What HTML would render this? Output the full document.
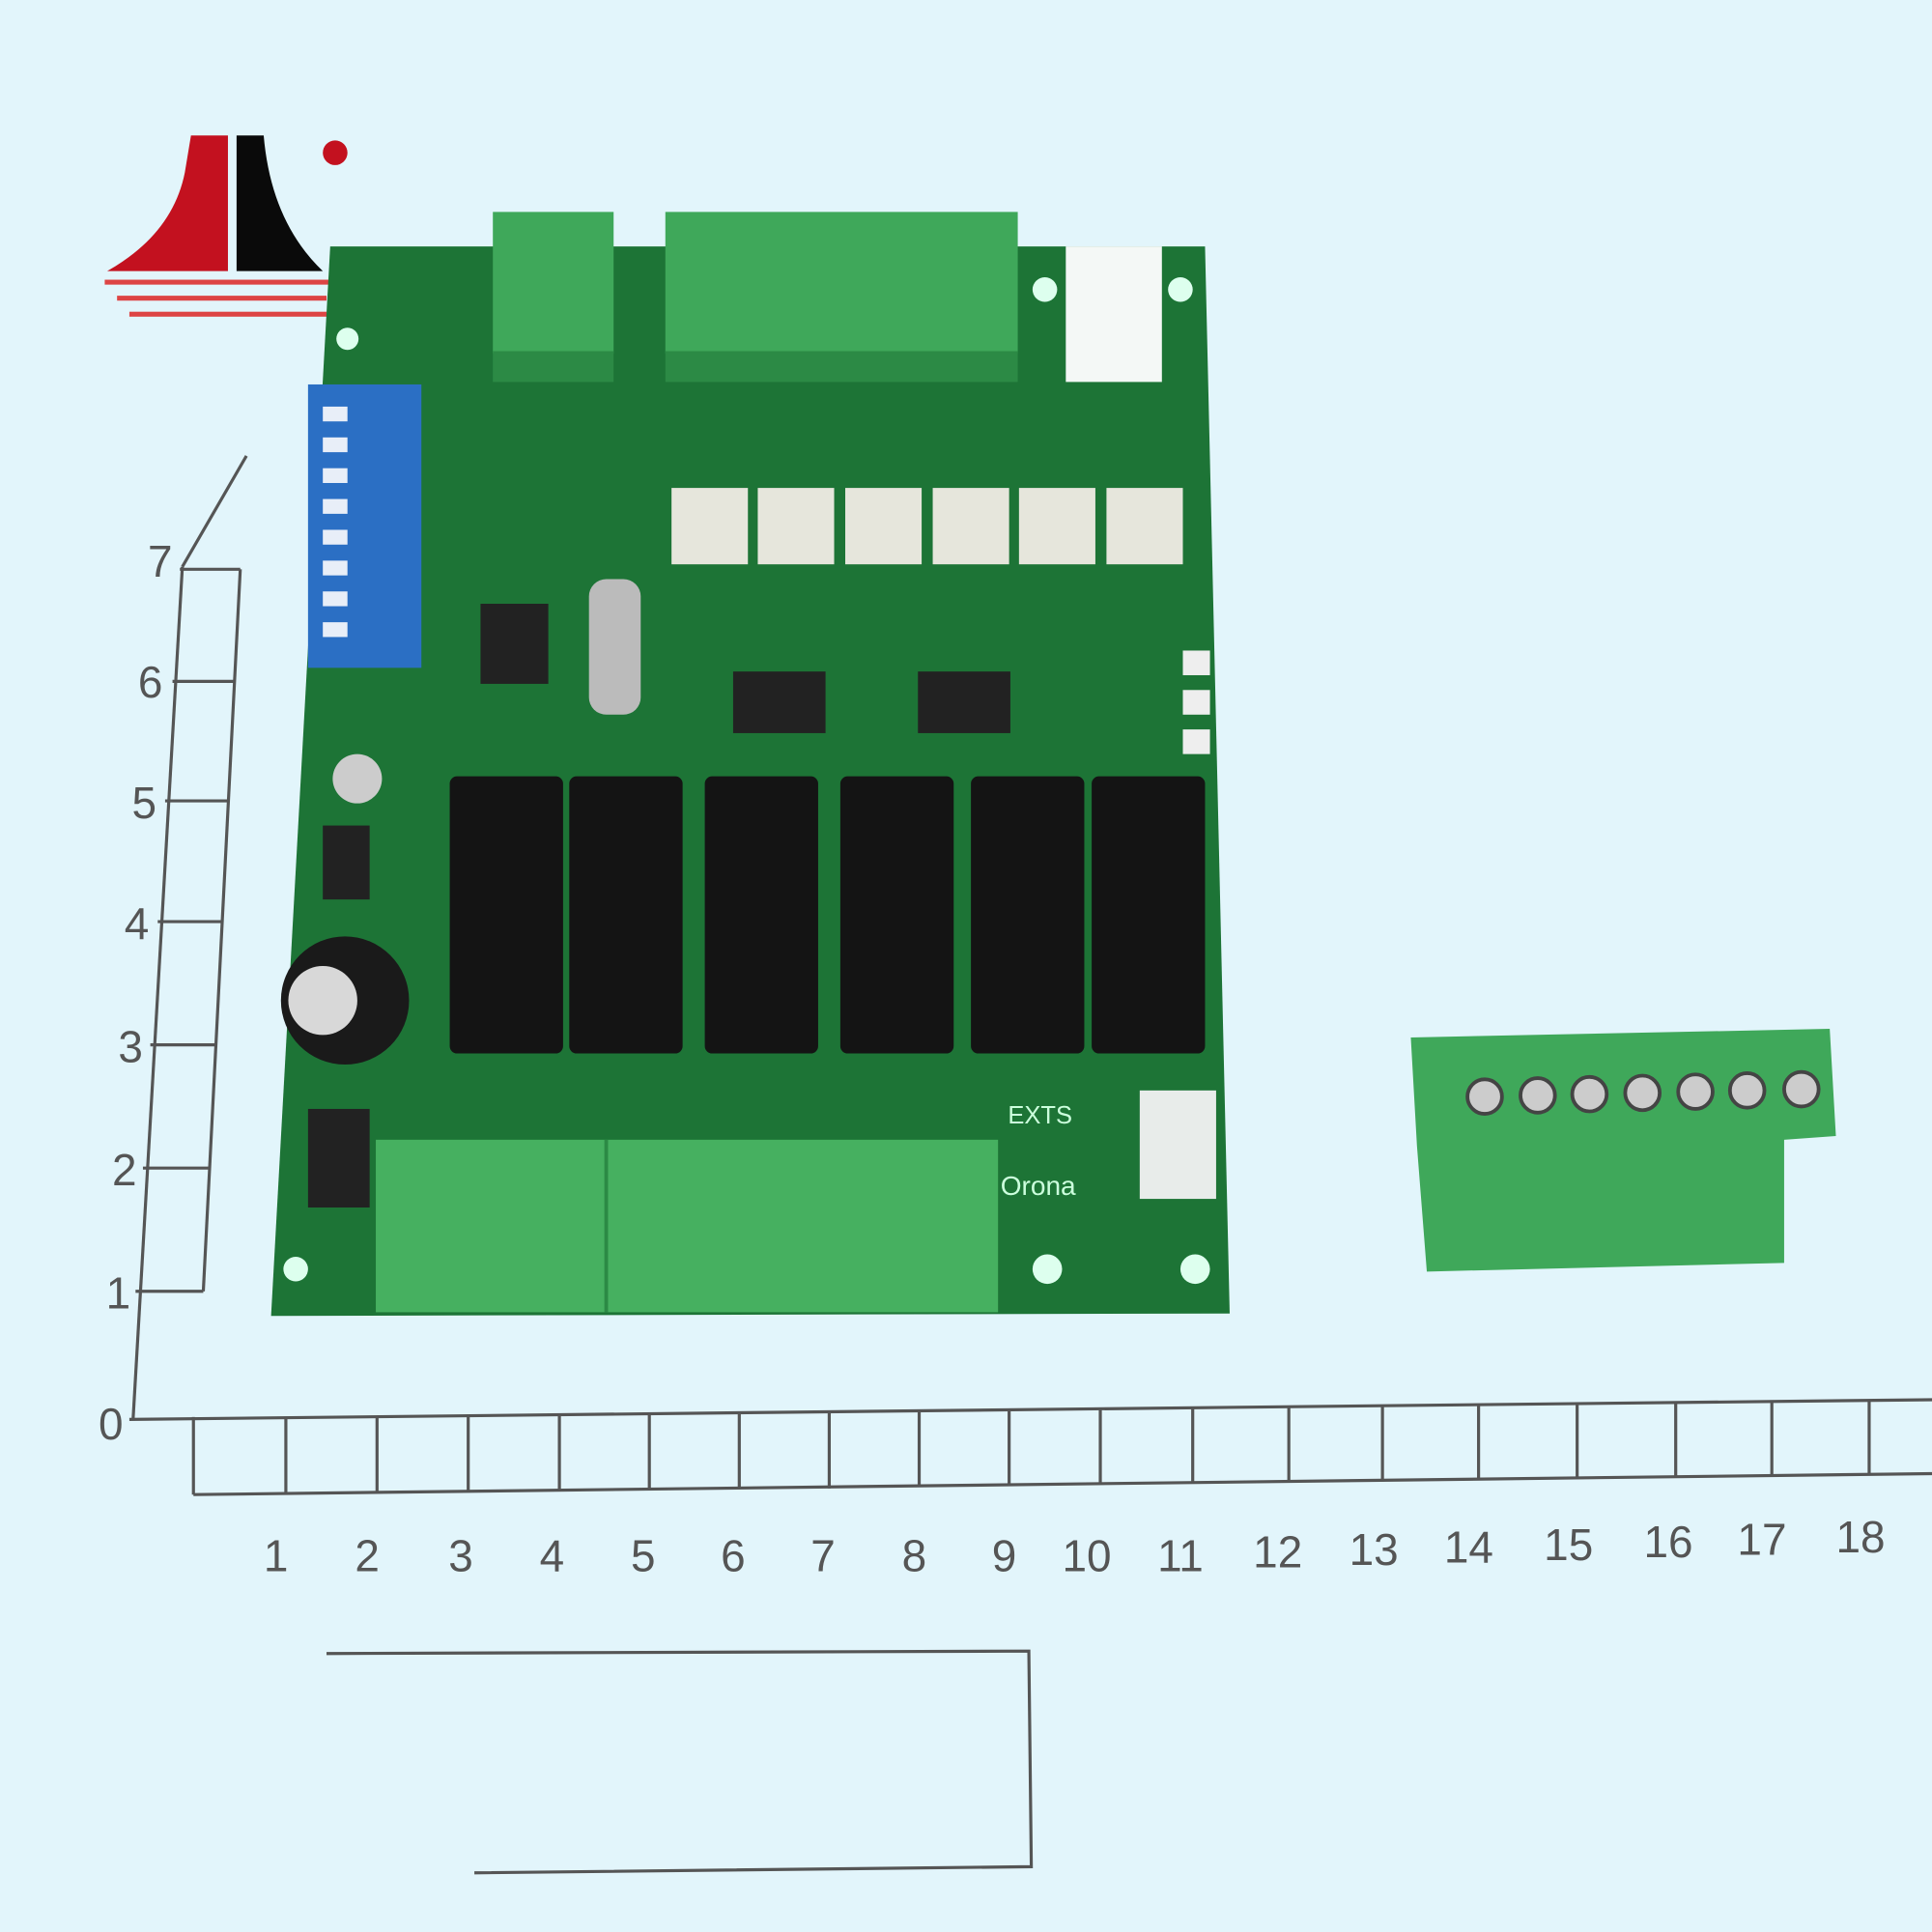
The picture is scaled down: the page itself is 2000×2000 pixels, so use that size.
<!DOCTYPE html>
<html><head><style>html,body{margin:0;padding:0;background:#e2f5fb;}svg{display:block}</style></head>
<body>
<svg width="2000" height="2000" viewBox="0 0 1568 1568" xmlns="http://www.w3.org/2000/svg" font-family="Liberation Sans, sans-serif">
<rect width="1568" height="1568" fill="#e2f5fb"/>
<!-- logo -->
<path d="M155 110 L185 110 L185 220 L87 220 Q140 190 150 140 Z" fill="#c3111f"/>
<path d="M192 110 L214 110 Q220 180 262 220 L192 220 Z" fill="#0a0a0a"/>
<circle cx="272" cy="124" r="10" fill="#c3111f"/>
<rect x="85" y="227" width="185" height="4" fill="#d44"/>
<rect x="95" y="240" width="170" height="4" fill="#d44"/>
<rect x="105" y="253" width="160" height="4" fill="#d44"/>
<!-- PCB -->
<path d="M268 200 L978 200 L998 1066 L220 1068 Z" fill="#1d7436"/>
<rect x="865" y="200" width="78" height="110" fill="#f4f8f6"/>
<!-- top terminals -->
<rect x="400" y="172" width="98" height="115" fill="#3fa85a"/>
<rect x="540" y="172" width="286" height="115" fill="#3fa85a"/>
<rect x="400" y="285" width="98" height="25" fill="#2c8a45"/>
<rect x="540" y="285" width="286" height="25" fill="#2c8a45"/>
<!-- dip switch -->
<rect x="250" y="312" width="92" height="230" fill="#2b6fc4"/>
<g fill="#e8eef8"><rect x="262" y="330" width="20" height="12"/><rect x="262" y="355" width="20" height="12"/><rect x="262" y="380" width="20" height="12"/><rect x="262" y="405" width="20" height="12"/><rect x="262" y="430" width="20" height="12"/><rect x="262" y="455" width="20" height="12"/><rect x="262" y="480" width="20" height="12"/><rect x="262" y="505" width="20" height="12"/></g>
<!-- optos -->
<g fill="#e6e6dc"><rect x="545" y="396" width="62" height="62"/><rect x="615" y="396" width="62" height="62"/><rect x="686" y="396" width="62" height="62"/><rect x="757" y="396" width="62" height="62"/><rect x="827" y="396" width="62" height="62"/><rect x="898" y="396" width="62" height="62"/></g>
<g fill="#222"><rect x="390" y="490" width="55" height="65"/><rect x="595" y="545" width="75" height="50"/><rect x="745" y="545" width="75" height="50"/><rect x="250" y="900" width="50" height="80"/><rect x="262" y="670" width="38" height="60"/></g>
<rect x="478" y="470" width="42" height="110" fill="#bbb" rx="14"/>
<!-- relays -->
<g fill="#141414"><rect x="365" y="630" width="92" height="225" rx="6"/><rect x="462" y="630" width="92" height="225" rx="6"/><rect x="572" y="630" width="92" height="225" rx="6"/><rect x="682" y="630" width="92" height="225" rx="6"/><rect x="788" y="630" width="92" height="225" rx="6"/><rect x="886" y="630" width="92" height="225" rx="6"/></g>
<circle cx="280" cy="812" r="52" fill="#1a1a1a"/><circle cx="262" cy="812" r="28" fill="#d8d8d8"/>
<circle cx="290" cy="632" r="20" fill="#ccc"/>
<g fill="#eee"><rect x="960" y="528" width="22" height="20"/><rect x="960" y="560" width="22" height="20"/><rect x="960" y="592" width="22" height="20"/></g>
<rect x="925" y="885" width="62" height="88" fill="#e8ecea"/>
<text x="818" y="912" font-size="20" fill="#cfd">EXTS</text>
<text x="812" y="970" font-size="22" fill="#cfd">Orona</text>
<!-- bottom terminals -->
<rect x="305" y="925" width="505" height="140" fill="#46b060"/>
<line x1="492" y1="925" x2="492" y2="1065" stroke="#2c8a45" stroke-width="3"/>
<g fill="#dfe"><circle cx="240" cy="1030" r="10"/><circle cx="850" cy="1030" r="12"/><circle cx="970" cy="1030" r="12"/><circle cx="848" cy="235" r="10"/><circle cx="958" cy="235" r="10"/><circle cx="282" cy="275" r="9"/></g>
<!-- loose connector -->
<path d="M1145 842 L1485 835 L1490 922 L1448 925 L1448 1025 L1158 1032 L1150 930 Z" fill="#3fa85a"/>
<g fill="#ccc" stroke="#444" stroke-width="3"><circle cx="1205" cy="890" r="14"/><circle cx="1248" cy="889" r="14"/><circle cx="1290" cy="888" r="14"/><circle cx="1333" cy="887" r="14"/><circle cx="1376" cy="886" r="14"/><circle cx="1418" cy="885" r="14"/><circle cx="1462" cy="884" r="14"/></g>
<!-- rulers -->
<g stroke="#555" stroke-width="2.5" fill="none">
<line x1="105" y1="1152" x2="1568" y2="1136"/>
<line x1="157" y1="1213" x2="1568" y2="1196"/>
<line x1="157" y1="1150" x2="157" y2="1213"/>
<line x1="232" y1="1150" x2="232" y2="1212"/><line x1="306" y1="1149" x2="306" y2="1212"/><line x1="380" y1="1148" x2="380" y2="1211"/><line x1="454" y1="1147" x2="454" y2="1210"/><line x1="527" y1="1147" x2="527" y2="1209"/><line x1="600" y1="1146" x2="600" y2="1208"/><line x1="673" y1="1145" x2="673" y2="1208"/><line x1="746" y1="1144" x2="746" y2="1207"/><line x1="819" y1="1144" x2="819" y2="1206"/><line x1="893" y1="1143" x2="893" y2="1205"/><line x1="968" y1="1142" x2="968" y2="1204"/><line x1="1046" y1="1141" x2="1046" y2="1203"/><line x1="1122" y1="1140" x2="1122" y2="1202"/><line x1="1200" y1="1140" x2="1200" y2="1201"/><line x1="1280" y1="1139" x2="1280" y2="1200"/><line x1="1360" y1="1138" x2="1360" y2="1199"/><line x1="1438" y1="1137" x2="1438" y2="1198"/><line x1="1517" y1="1137" x2="1517" y2="1197"/>
<line x1="108" y1="1152" x2="148" y2="460"/>
<line x1="148" y1="460" x2="200" y2="370"/>
<line x1="110" y1="1048" x2="165" y2="1048"/><line x1="116" y1="948" x2="170" y2="948"/><line x1="122" y1="848" x2="175" y2="848"/><line x1="128" y1="748" x2="180" y2="748"/><line x1="134" y1="650" x2="185" y2="650"/><line x1="140" y1="553" x2="190" y2="553"/><line x1="146" y1="462" x2="195" y2="462"/>
<line x1="165" y1="1048" x2="195" y2="462"/>
<path d="M265 1342 L835 1340 L837 1515 L385 1520"/>
</g>
<g font-size="36" fill="#555" text-anchor="middle">
<text x="224" y="1275">1</text><text x="298" y="1275">2</text><text x="374" y="1275">3</text><text x="448" y="1275">4</text><text x="522" y="1275">5</text><text x="595" y="1275">6</text><text x="668" y="1275">7</text><text x="742" y="1275">8</text><text x="815" y="1275">9</text><text x="882" y="1275">10</text><text x="958" y="1275">11</text><text x="1037" y="1272">12</text><text x="1115" y="1270">13</text><text x="1192" y="1268">14</text><text x="1273" y="1266">15</text><text x="1354" y="1264">16</text><text x="1430" y="1262">17</text><text x="1510" y="1260">18</text>
<text x="90" y="1168">0</text><text x="96" y="1062">1</text><text x="101" y="962">2</text><text x="106" y="862">3</text><text x="111" y="762">4</text><text x="117" y="664">5</text><text x="122" y="566">6</text><text x="130" y="468">7</text>
</g>
</svg>
</body></html>
